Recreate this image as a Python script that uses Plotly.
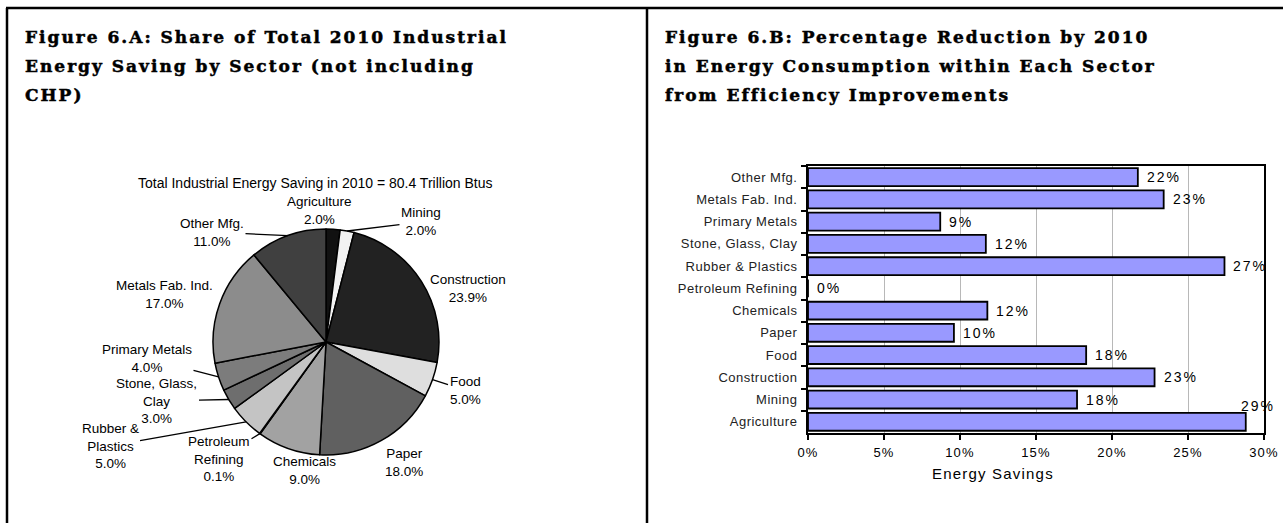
import math
import plotly.graph_objects as go

W, H = 1283, 523

# Figure 6.A - share of total 2010 industrial energy saving (pie, clockwise from 12 o'clock)
pie_sectors = ["Agriculture", "Mining", "Construction", "Food", "Paper", "Chemicals",
               "Petroleum Refining", "Rubber & Plastics", "Stone, Glass, Clay",
               "Primary Metals", "Metals Fab. Ind.", "Other Mfg."]
pie_shares = [2.0, 2.0, 23.9, 5.0, 18.0, 9.0, 0.1, 5.0, 3.0, 4.0, 17.0, 11.0]
pie_label_text = ["Agriculture", "Mining", "Construction", "Food", "Paper", "Chemicals",
                  "Petroleum<br>Refining", "Rubber &<br>Plastics", "Stone, Glass,<br>Clay",
                  "Primary Metals", "Metals Fab. Ind.", "Other Mfg."]
pie_grays = ["#111111", "#f2f2f2", "#222222", "#dedede", "#606060", "#a2a2a2",
             "#8c8c8c", "#c4c4c4", "#6e6e6e", "#7c7c7c", "#8c8c8c", "#404040"]

# Figure 6.B - percentage reduction in energy use within each sector (bottom to top)
bar_sectors = ["Agriculture", "Mining", "Construction", "Food", "Paper", "Chemicals",
               "Petroleum Refining", "Rubber & Plastics", "Stone, Glass, Clay",
               "Primary Metals", "Metals Fab. Ind.", "Other Mfg."]
bar_savings = [0.288, 0.177, 0.228, 0.183, 0.096, 0.118, 0.0, 0.274, 0.117, 0.087, 0.234, 0.217]
x_ticks = [0, 0.05, 0.10, 0.15, 0.20, 0.25, 0.30]

title_a = ["Figure 6.A: Share of Total 2010 Industrial",
           "Energy Saving by Sector (not including",
           "CHP)"]
title_b = ["Figure 6.B: Percentage Reduction by 2010",
           "in Energy Consumption within Each Sector",
           "from Efficiency Improvements"]
pie_subtitle = "Total Industrial Energy Saving in 2010 = 80.4 Trillion Btus"


def px(x):
    return x / W


def py(y):
    return 1 - y / H


def spaced(s, sp, extra=""):
    return f'<span style="letter-spacing:{sp}px;{extra}">{s}</span>'


# pie geometry (pixels)
cx, cy, r = 326, 342, 113
# label centres in pixels, and whether Excel drew a leader line
label_pos = {
    "Agriculture": (319, 211, False),
    "Mining": (421, 222, True),
    "Construction": (468, 288, False),
    "Food": (465, 390, True),
    "Paper": (404, 462, False),
    "Chemicals": (304, 470, False),
    "Petroleum Refining": (219, 459, True),
    "Rubber & Plastics": (110, 446, True),
    "Stone, Glass, Clay": (157, 401, True),
    "Primary Metals": (147, 358, True),
    "Metals Fab. Ind.": (164, 294, False),
    "Other Mfg.": (212, 232, True),
}

fig = go.Figure()

fig.add_trace(go.Pie(
    values=pie_shares, labels=pie_sectors, sort=False, direction="clockwise",
    rotation=0, textinfo="none", hoverinfo="label+percent",
    marker=dict(colors=pie_grays, line=dict(color="black", width=1.5)),
    domain=dict(x=[px(cx - r), px(cx + r)], y=[py(cy + r), py(cy - r)]),
    showlegend=False,
))

fig.add_trace(go.Bar(
    x=bar_savings, y=bar_sectors, orientation="h",
    marker=dict(color="#9999ff", line=dict(color="black", width=1.8)),
    showlegend=False, hoverinfo="x+y",
))

ann = []
lab_font = dict(family="Arial, Liberation Sans", size=13.5, color="black")

# pie labels
cum = 0.0
for name, share, txt in zip(pie_sectors, pie_shares, pie_label_text):
    ang = (cum + share / 2) / 100 * 2 * math.pi
    ex = cx + r * math.sin(ang)
    ey = cy - r * math.cos(ang)
    cum += share
    lx, ly, leader = label_pos[name]
    text = f"{txt}<br>{share:.1f}%"
    if leader:
        ann.append(dict(x=px(ex), y=py(ey), xref="paper", yref="paper", text=text,
                        showarrow=True, ax=lx - ex, ay=ly - ey, arrowhead=0,
                        arrowwidth=1.3, arrowcolor="black", standoff=0,
                        xanchor="center", yanchor="middle",
                        font=lab_font, align="center"))
    else:
        ann.append(dict(x=px(lx), y=py(ly), xref="paper", yref="paper", text=text,
                        showarrow=False, xanchor="center", yanchor="middle",
                        font=lab_font, align="center"))

ann.append(dict(x=px(315), y=py(183), xref="paper", yref="paper", text=pie_subtitle,
                showarrow=False, xanchor="center", yanchor="middle",
                font=dict(family="Arial, Liberation Sans", size=14, color="black")))

# figure titles, one annotation per line
title_font = dict(family="DejaVu Serif", size=17, color="black", weight="bold")
heavy = "stroke:black;stroke-width:0.5px"
for i, line in enumerate(title_a):
    ann.append(dict(x=px(23), y=py(37 + 29 * i), xref="paper", yref="paper",
                    text=spaced(line, 2.0, heavy), showarrow=False, xanchor="left",
                    yanchor="middle", font=title_font))
for i, line in enumerate(title_b):
    ann.append(dict(x=px(663), y=py(37 + 29 * i), xref="paper", yref="paper",
                    text=spaced(line, 2.0, heavy), showarrow=False, xanchor="left",
                    yanchor="middle", font=title_font))

# bar value labels
for name, v in zip(bar_sectors, bar_savings):
    d = dict(x=v, y=name, xref="x", yref="y", text=spaced(f"{v * 100:.0f}%", 2),
             showarrow=False, xanchor="left", yanchor="middle", xshift=7,
             font=dict(family="Arial, Liberation Sans", size=14, color="black"))
    if v > 0.28:  # would not fit inside the plot: lift it above the bar
        d.update(xanchor="center", xshift=12, yshift=16)
    ann.append(d)

ann.append(dict(x=px(993), y=py(473), xref="paper", yref="paper",
                text=spaced("Energy Savings", 1.2), showarrow=False,
                xanchor="center", yanchor="middle",
                font=dict(family="Arial, Liberation Sans", size=15, color="black")))

# panel frames
shapes = [
    dict(type="line", xref="paper", yref="paper", x0=px(6), x1=1, y0=py(8), y1=py(8),
         line=dict(color="black", width=2.5)),
    dict(type="line", xref="paper", yref="paper", x0=px(7), x1=px(7), y0=py(8), y1=0,
         line=dict(color="black", width=2.5)),
    dict(type="line", xref="paper", yref="paper", x0=px(647), x1=px(647), y0=py(8), y1=0,
         line=dict(color="black", width=2.5)),
]

fig.update_layout(
    width=W, height=H, autosize=False,
    margin=dict(l=0, r=0, t=0, b=0, autoexpand=False),
    paper_bgcolor="white", plot_bgcolor="white",
    bargap=0.2,
    annotations=ann, shapes=shapes,
    xaxis=dict(domain=[px(808), px(1264)], range=[0, 0.30], automargin=False,
               tickmode="array", tickvals=x_ticks,
               ticktext=[spaced(f"{t * 100:.0f}%", 1.2) for t in x_ticks],
               showgrid=True, gridcolor="#b8b8b8", gridwidth=1, zeroline=False,
               showline=True, mirror=True, linecolor="black", linewidth=2,
               ticks="outside", ticklen=5, tickwidth=2, tickcolor="black",
               ticklabelstandoff=1,
               tickfont=dict(family="Arial, Liberation Sans", size=13, color="black")),
    yaxis=dict(domain=[py(433), py(166)], type="category", automargin=False,
               categoryorder="array", categoryarray=bar_sectors,
               tickmode="array", tickvals=bar_sectors,
               ticktext=[spaced(s, 0.5) for s in bar_sectors],
               tickson="boundaries",
               showgrid=False, showline=True, mirror=True, linecolor="black", linewidth=2,
               ticks="outside", ticklen=5, tickwidth=2, tickcolor="black",
               ticklabelstandoff=6,
               tickfont=dict(family="Arial, Liberation Sans", size=13, color="#222222")),
)

fig.write_html("out.html",
               config={"displayModeBar": False, "responsive": False},
               post_script="document.body.style.margin='0';document.body.style.overflow='hidden';")
